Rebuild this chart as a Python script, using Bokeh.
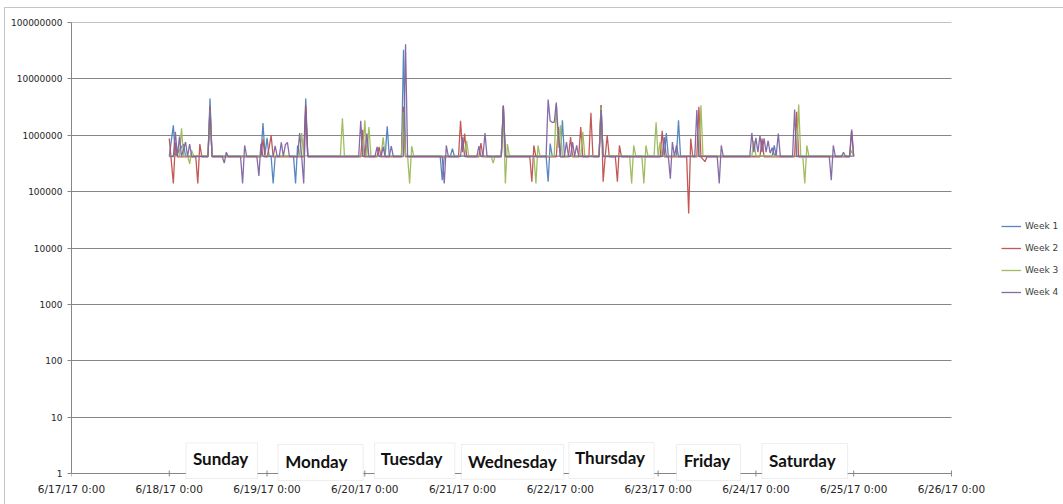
from datetime import datetime, timedelta

from bokeh.embed import file_html
from bokeh.models import (BoxAnnotation, FixedTicker, Label, Legend,
                          LegendItem, Range1d)
from bokeh.plotting import figure
from bokeh.resources import INLINE

# ---------------------------------------------------------------------------
# Data: (hours since Sun 6/18/17 0:00, value in thousands) for each week
# ---------------------------------------------------------------------------
week1 = [
    (0, 425), (1, 1500), (1.5, 425), (3.5, 700), (4, 425),
    (9.5, 425), (10, 4500), (10.5, 425),
    (22.5, 425), (23, 1650), (23.5, 450), (24, 900), (24.5, 425), (25, 425), (25.5, 140), (26, 425),
    (30.5, 425), (31, 140), (31.5, 660), (32, 425),
    (33, 425), (33.5, 4500), (34, 425),
    (53, 425), (53.5, 1450), (54, 425),
    (57, 425), (57.5, 33000), (58, 425),
    (66.5, 425), (67, 160), (67.5, 425),
    (69, 425), (69.5, 580), (70, 425),
    (81.5, 425), (82, 3400), (82.5, 425),
    (92.5, 425), (93, 150), (93.5, 710), (94, 425),
    (96, 425), (96.5, 1850), (97, 425),
    (105.5, 425), (106, 3400), (106.5, 425),
    (121.5, 425), (122, 1100), (122.5, 425),
    (124.5, 425), (125, 1850), (125.5, 425),
    (148, 425), (148.5, 665), (149, 425),
    (168, 425),
]

week2 = [
    (0, 880), (1, 140), (1.5, 750), (2, 415),
    (6.5, 415), (7, 140), (7.5, 700), (8, 415),
    (9.5, 415), (10, 3200), (10.5, 415),
    (22.5, 415), (23, 850), (23.5, 415), (24, 415), (24.5, 600), (25, 1000), (25.5, 415),
    (33, 415), (33.5, 3400), (34, 415),
    (47, 415), (47.5, 1250), (48, 415),
    (51, 415), (51.5, 620), (52, 415),
    (57, 415), (57.5, 3200), (58, 415),
    (71, 415), (71.5, 1800), (72, 500), (72.5, 1070), (73, 415),
    (76, 415), (76.5, 730), (77, 415),
    (81.5, 415), (82, 3300), (82.5, 415),
    (88.5, 415), (89, 150), (89.5, 660), (90, 415),
    (95, 415), (95.5, 1400), (96, 415),
    (98, 415), (98.5, 930), (99, 415),
    (100.5, 415), (101, 1400), (101.5, 415),
    (103, 415), (103.5, 2500), (104, 415),
    (105.5, 415), (106, 3400), (106.5, 150), (107, 415), (107.5, 1000), (108, 415),
    (109.5, 415), (110, 150), (110.5, 660), (111, 415),
    (120.5, 415), (121, 1200), (121.5, 415),
    (127, 415), (127.5, 41), (128, 870), (128.5, 415),
    (129.5, 415), (130, 3200), (130.5, 415), (131.5, 340), (132, 415),
    (145, 415), (145.5, 870), (146, 415),
    (153.5, 415), (154, 2600), (154.5, 415),
    (167, 415), (167.5, 1200), (168, 415),
]

week3 = [
    (0, 430), (2.5, 430), (3, 1330), (3.5, 430),
    (4.5, 430), (5, 310), (5.5, 540), (6, 430),
    (9.5, 430), (10, 2800), (10.5, 430),
    (32, 430), (32.5, 1100), (33, 430),
    (42, 430), (42.5, 2000), (43, 430),
    (47.5, 430), (48, 1850), (48.5, 430), (49, 1400), (49.5, 430),
    (52, 430), (52.5, 920), (53, 430),
    (57, 430), (57.5, 2600), (58, 430),
    (58.5, 430), (59, 140), (59.5, 640), (60, 430),
    (72.5, 430), (73, 800), (73.5, 430),
    (79, 430), (79.5, 320), (80, 430),
    (81.5, 430), (82, 2500), (82.5, 140), (83, 700), (83.5, 430),
    (89.5, 430), (90, 140), (90.5, 660), (91, 430),
    (94.5, 430), (95, 3600), (95.5, 600), (96, 1500), (96.5, 430),
    (101, 430), (101.5, 1150), (102, 430),
    (105.5, 430), (106, 3200), (106.5, 430),
    (113, 430), (113.5, 140), (114, 660), (114.5, 430),
    (116, 430), (116.5, 140), (117, 660), (117.5, 430),
    (119, 430), (119.5, 1700), (120, 430), (120.5, 760), (121, 430),
    (130, 430), (130.5, 3400), (131, 430),
    (143, 430), (143.5, 800), (144, 430),
    (154, 430), (154.5, 3500), (155, 430),
    (155.5, 430), (156, 140), (156.5, 660), (157, 430),
    (167, 430), (167.5, 540), (168, 430),
]

week4 = [
    (0, 420), (1, 420), (1.5, 1150), (2, 420), (2.5, 950), (3, 420),
    (4, 760), (4.5, 420), (5, 700), (5.5, 420),
    (9.5, 420), (10, 2800), (10.5, 420),
    (13, 420), (13.5, 320), (14, 500), (14.5, 420),
    (17.5, 420), (18, 140), (18.5, 660), (19, 420),
    (21.5, 420), (22, 190), (22.5, 710), (23, 420),
    (25.5, 420), (26, 650), (26.5, 420),
    (27, 420), (27.5, 750), (28, 420), (28.5, 680), (29, 750), (29.5, 420),
    (31.5, 420), (32, 1100), (32.5, 420), (33, 140), (33.5, 2800), (34, 420),
    (46.5, 420), (47, 1800), (47.5, 420), (48, 420), (48.5, 1070), (49, 420),
    (50.5, 420), (51, 620), (51.5, 420), (52, 420), (52.5, 620), (53, 420),
    (54, 420), (54.5, 640), (55, 420),
    (57.5, 420), (58, 41000), (58.5, 420),
    (67, 420), (67.5, 140), (68, 660), (68.5, 420),
    (71.5, 420), (72, 930), (72.5, 420),
    (75.5, 420), (76, 640), (76.5, 420), (77, 420), (77.5, 1100), (78, 420),
    (81.5, 420), (82, 3300), (82.5, 420),
    (92.5, 420), (93, 4300), (93.5, 1800), (94, 1700), (94.5, 1700), (95, 3800), (95.5, 1000), (96, 420),
    (97, 420), (97.5, 760), (98, 420), (98.5, 420), (99, 760), (99.5, 420), (100, 660), (100.5, 420),
    (105.5, 420), (106, 2800), (106.5, 420),
    (121, 420), (121.5, 930), (122, 420), (122.5, 420), (123, 170), (123.5, 760), (124, 420),
    (124.5, 660), (125, 420),
    (129, 420), (129.5, 2800), (130, 420),
    (134.5, 420), (135, 140), (135.5, 660), (136, 420),
    (142.5, 420), (143, 1100), (143.5, 500), (144, 900), (144.5, 500), (145, 1000), (145.5, 500),
    (146, 880), (146.5, 500), (147, 800), (147.5, 480), (148, 600), (148.5, 450), (149, 450),
    (149.5, 1070), (150, 420),
    (153, 420), (153.5, 2850), (154, 420),
    (162, 420), (162.5, 160), (163, 660), (163.5, 420),
    (165, 420), (165.5, 500), (166, 420),
    (167, 420), (167.5, 1260), (168, 430),
]

series_names = ["Week 1", "Week 2", "Week 3", "Week 4"]
series_colors = ["#4F81BD", "#C0504D", "#9BBB59", "#8064A2"]

x_tick_labels = ["6/17/17 0:00", "6/18/17 0:00", "6/19/17 0:00", "6/20/17 0:00",
                 "6/21/17 0:00", "6/22/17 0:00", "6/23/17 0:00", "6/24/17 0:00",
                 "6/25/17 0:00", "6/26/17 0:00"]
y_tick_values = [1, 10, 100, 1000, 10000, 100000, 1000000, 10000000, 100000000]

day_names = ["Sunday", "Monday", "Tuesday", "Wednesday", "Thursday", "Friday", "Saturday"]

# ---------------------------------------------------------------------------
EPOCH = datetime(1970, 1, 1)
WEEK_START = datetime(2017, 6, 18)


def to_ms(dt):
    return int((dt - EPOCH).total_seconds() * 1000)


def hours_to_ms(h):
    return to_ms(WEEK_START + timedelta(hours=h))


x_ticks = [to_ms(datetime(2017, 6, 17) + timedelta(days=i)) for i in range(len(x_tick_labels))]

# The plotting frame reaches to the right edge (room for the legend) and a
# little below 1 (room for the weekday boxes that straddle the time axis);
# grid lines and the value axis are kept to the charted span.
x_end = to_ms(datetime(2017, 6, 27, 3, 45))
p = figure(
    width=1059, height=497,
    x_axis_type="datetime", y_axis_type="log",
    x_range=Range1d(x_ticks[0], x_end),
    y_range=Range1d(0.7213, 100100000),
    output_backend="svg", toolbar_location=None,
    min_border_left=66, min_border_right=0,
    min_border_top=14, min_border_bottom=24,
)
p.margin = (7, 0, 0, 4)
p.styles = {"border-top": "1px solid #c4c4c4", "border-left": "1px solid #c4c4c4"}
p.outline_line_color = None
p.background_fill_color = "white"
p.border_fill_color = "white"

axis_grey = "#868686"

# time axis: labels only, its line is the grid line at 1
p.xaxis.ticker = FixedTicker(ticks=x_ticks)
p.xaxis.major_label_overrides = dict(zip(x_ticks, x_tick_labels))
p.xaxis.axis_line_color = None
p.xaxis.major_tick_line_color = None
p.xaxis.major_tick_in = 0
p.xaxis.major_tick_out = 0
p.xaxis.minor_tick_line_color = None
p.xaxis.minor_tick_in = 0
p.xaxis.minor_tick_out = 0
p.xaxis.major_label_standoff = 1
p.xaxis.major_label_text_font = "DejaVu Sans"
p.xaxis.major_label_text_font_size = "10.5px"
p.xaxis.major_label_text_color = "#262626"

p.yaxis.ticker = FixedTicker(ticks=y_tick_values)
p.yaxis.bounds = (y_tick_values[0], y_tick_values[-1])
p.yaxis.major_label_overrides = {v: str(v) for v in y_tick_values}
p.yaxis.axis_line_color = axis_grey
p.yaxis.major_tick_line_color = axis_grey
p.yaxis.major_tick_in = 0
p.yaxis.major_tick_out = 4
p.yaxis.minor_tick_line_color = None
p.yaxis.major_label_standoff = 5
p.yaxis.major_label_text_font = "DejaVu Sans"
p.yaxis.major_label_text_font_size = "9px"
p.yaxis.major_label_text_color = "#262626"

p.xgrid.grid_line_color = None
p.ygrid.grid_line_color = axis_grey
p.ygrid.grid_line_width = 1
p.ygrid.cross_bounds = (x_ticks[0], x_ticks[-1])

# small cross ticks on the time axis at each midnight
p.segment(x0=x_ticks, y0=[0.885] * len(x_ticks), x1=x_ticks, y1=[1.13] * len(x_ticks),
          line_color=axis_grey, line_width=1)

# weekly lines
renderers = []
for pts, color in zip([week1, week2, week3, week4], series_colors):
    xs = [WEEK_START + timedelta(hours=h) for h, _ in pts]
    ys = [v * 1000 for _, v in pts]
    r = p.line(xs, ys, line_color=color, line_width=1.3, line_alpha=0.95)
    renderers.append(r)

legend = Legend(
    items=[LegendItem(label=n, renderers=[r]) for n, r in zip(series_names, renderers)],
    location=(930, 178), orientation="vertical",
    glyph_width=20, glyph_height=22, label_height=22, label_standoff=4,
    spacing=0, padding=0, margin=0,
    border_line_color=None, background_fill_alpha=0,
    label_text_font="DejaVu Sans", label_text_font_size="9px",
    label_text_color="#404040",
)
p.add_layout(legend)

# weekday boxes sitting on the time axis
day_layout = [
    # (text centre h, box left h, box right h, box top, box bottom, text middle)
    (12.6, 4.1, 21.65, 3.49, 0.815, 1.845),
    (36.1, 26.7, 47.6, 3.27, 0.751, 1.666),
    (59.5, 50.4, 70.1, 3.49, 0.815, 1.845),
    (84.2, 71.7, 96.8, 3.27, 0.79, 1.666),
    (108.2, 98.1, 119.0, 3.55, 0.815, 1.884),
    (132.0, 124.5, 140.2, 3.27, 0.751, 1.70),
    (155.4, 145.5, 166.5, 3.40, 0.815, 1.70),
]
for name, (tc, bl, br, bt, bb, mid) in zip(day_names, day_layout):
    p.add_layout(BoxAnnotation(
        left=hours_to_ms(bl), right=hours_to_ms(br), top=bt, bottom=bb,
        fill_color="white", fill_alpha=1.0,
        line_color="#c8c8c8", line_width=1, level="annotation",
    ))
    p.add_layout(Label(
        x=hours_to_ms(tc), y=mid, text=name,
        text_align="center", text_baseline="middle",
        text_font="Lato", text_font_style="bold", text_font_size="17px",
        text_color="#111111", level="annotation",
    ))

open("out.html", "w").write(file_html(p, INLINE))
